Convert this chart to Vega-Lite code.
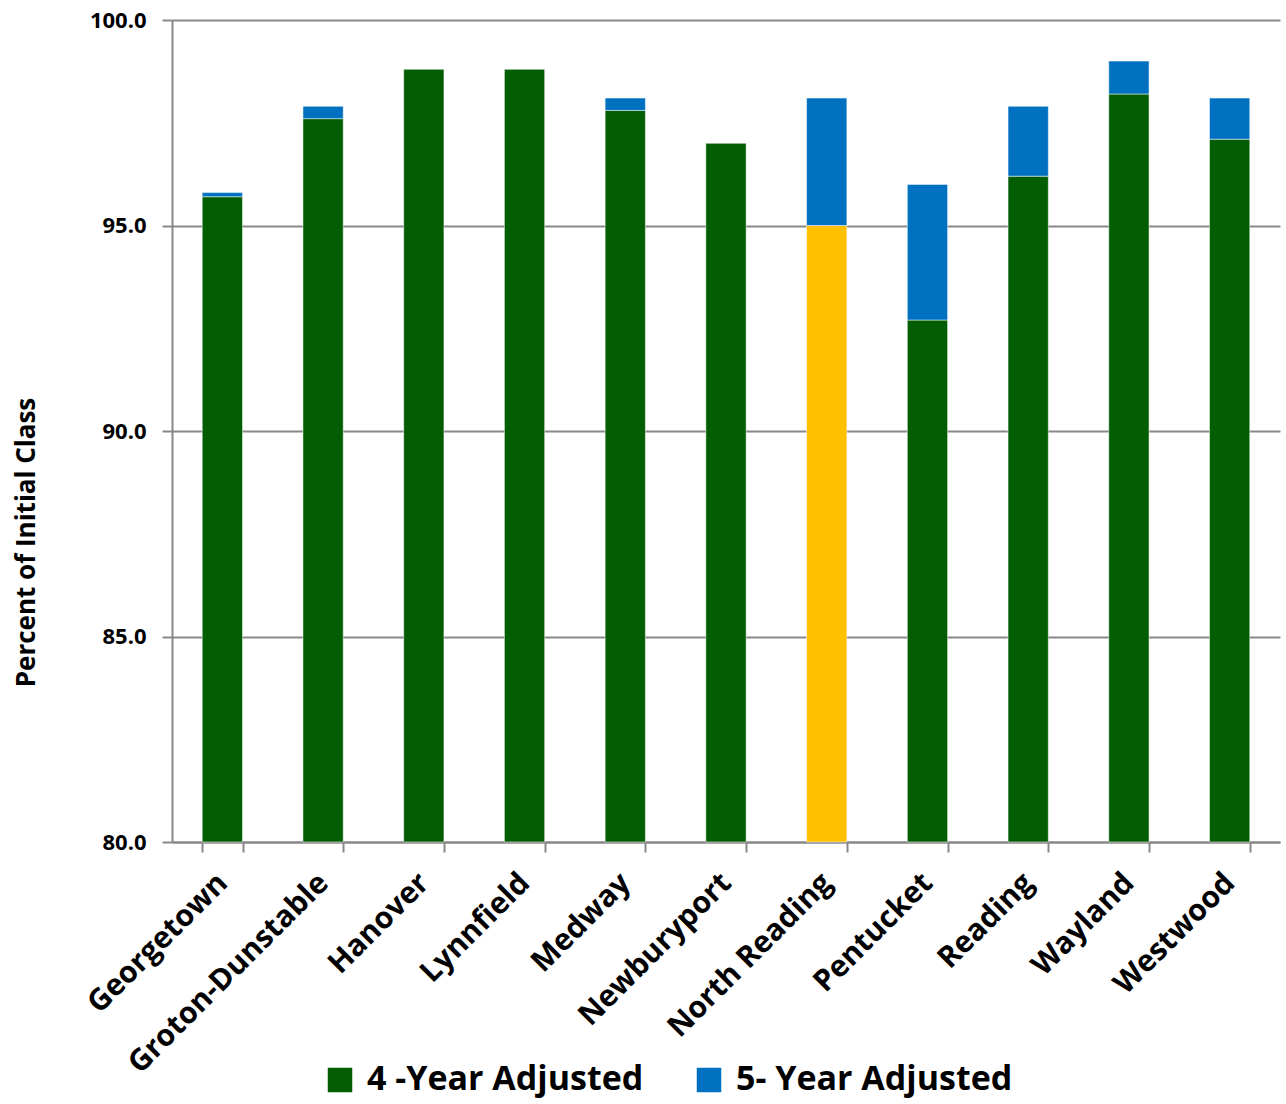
{
  "$schema": "https://vega.github.io/schema/vega-lite/v6.json",
  "width": 1108,
  "height": 822,
  "autosize": {"type": "none"},
  "padding": {"left": 172, "top": 20, "right": 6, "bottom": 262},
  "background": "white",
  "config": {
    "font": "Open Sans",
    "view": {"stroke": null},
    "axis": {"labelFontWeight": "bold", "titleFontWeight": "bold", "labelColor": "black", "titleColor": "black", "labelLimit": 1000, "titleLimit": 1000}
  },
  "data": {
    "values": [
      {"school": "Georgetown", "four": 95.7, "five": 95.8, "cat": "4 -Year Adjusted"},
      {"school": "Groton-Dunstable", "four": 97.6, "five": 97.9, "cat": "4 -Year Adjusted"},
      {"school": "Hanover", "four": 98.8, "five": 98.8, "cat": "4 -Year Adjusted"},
      {"school": "Lynnfield", "four": 98.8, "five": 98.8, "cat": "4 -Year Adjusted"},
      {"school": "Medway", "four": 97.8, "five": 98.1, "cat": "4 -Year Adjusted"},
      {"school": "Newburyport", "four": 97.0, "five": 97.0, "cat": "4 -Year Adjusted"},
      {"school": "North Reading", "four": 95.0, "five": 98.1, "cat": "highlight"},
      {"school": "Pentucket", "four": 92.7, "five": 96.0, "cat": "4 -Year Adjusted"},
      {"school": "Reading", "four": 96.2, "five": 97.9, "cat": "4 -Year Adjusted"},
      {"school": "Wayland", "four": 98.2, "five": 99.0, "cat": "4 -Year Adjusted"},
      {"school": "Westwood", "four": 97.1, "five": 98.1, "cat": "4 -Year Adjusted"}
    ]
  },
  "encoding": {
    "x": {
      "field": "school", "type": "nominal", "sort": null,
      "scale": {"paddingInner": 0.6, "paddingOuter": 0.3},
      "axis": {
        "title": null, "labelAngle": -45, "labelAlign": "right", "labelBaseline": "middle",
        "labelFontSize": 30, "labelPadding": 26, "tickBand": "extent", "tickSize": 10,
        "tickColor": "#888888", "domainColor": "#888888", "domainWidth": 2, "tickWidth": 2
      }
    },
    "y": {
      "field": "four", "type": "quantitative",
      "scale": {"domain": [80, 100], "zero": false, "nice": false},
      "axis": {
        "title": "Percent of Initial Class", "titleFontSize": 26,
        "titleX": -146, "titleY": 522, "titleAngle": -90, "titleAlign": "center", "titleBaseline": "middle",
        "labelFontSize": 22, "format": ".1f", "values": [80, 85, 90, 95, 100],
        "labelOverlap": false, "labelFlush": false,
        "labelPadding": 16, "tickSize": 10, "tickColor": "#888888", "tickWidth": 2,
        "domainColor": "#888888", "domainWidth": 2,
        "grid": true, "gridColor": "#888888", "gridWidth": 2
      }
    }
  },
  "layer": [
    {
      "mark": {"type": "bar", "stroke": "#ffffff", "strokeOpacity": 0.5, "strokeWidth": 1},
      "encoding": {
        "y2": {"datum": 80},
        "color": {
          "field": "cat", "type": "nominal",
          "scale": {"domain": ["4 -Year Adjusted", "5- Year Adjusted", "highlight"], "range": ["#035E03", "#0070C0", "#FFC000"]},
          "legend": {
            "values": ["4 -Year Adjusted", "5- Year Adjusted"], "title": null,
            "orient": "none", "direction": "horizontal", "legendX": 151, "legendY": 1043,
            "symbolType": "square", "symbolSize": 600, "symbolStrokeWidth": 0,
            "labelFontSize": 34, "labelFontWeight": "bold", "labelColor": "black", "labelLimit": 1000,
            "columnPadding": 48, "labelOffset": 10
          }
        }
      }
    },
    {
      "mark": {"type": "bar", "stroke": "#ffffff", "strokeOpacity": 0.5, "strokeWidth": 1},
      "transform": [{"filter": "datum.five > datum.four"}],
      "encoding": {
        "y": {"field": "five", "type": "quantitative"},
        "y2": {"field": "four"},
        "color": {"datum": "5- Year Adjusted"}
      }
    }
  ]
}
